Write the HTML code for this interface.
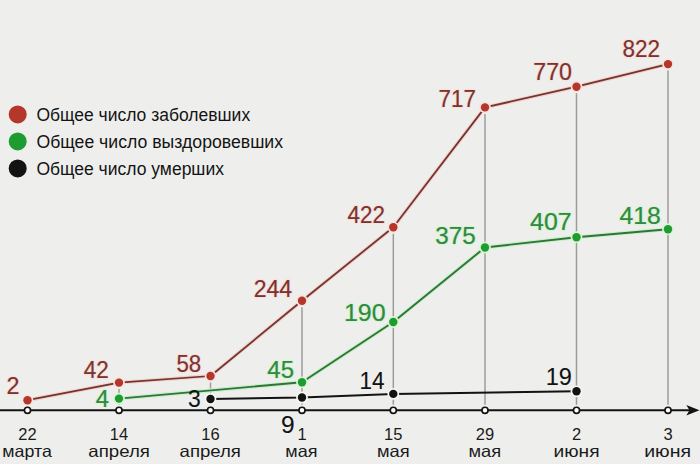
<!DOCTYPE html>
<html><head><meta charset="utf-8"><style>
html,body{margin:0;padding:0;background:#eeefed;}
svg{display:block;font-family:"Liberation Sans","DejaVu Sans",sans-serif;}
</style></head><body>
<svg width="700" height="464" viewBox="0 0 700 464">
<rect width="700" height="464" fill="#eeefed"/>
<line x1="119" y1="389.1" x2="119" y2="404.7" stroke="#9c9c9c" stroke-width="1.5"/>
<line x1="210.5" y1="382.5" x2="210.5" y2="404.7" stroke="#9c9c9c" stroke-width="1.5"/>
<line x1="302" y1="307.2" x2="302" y2="404.7" stroke="#9c9c9c" stroke-width="1.5"/>
<line x1="393.3" y1="233.8" x2="393.3" y2="404.7" stroke="#9c9c9c" stroke-width="1.5"/>
<line x1="485" y1="113.9" x2="485" y2="404.7" stroke="#9c9c9c" stroke-width="1.5"/>
<line x1="576.5" y1="93.2" x2="576.5" y2="404.7" stroke="#9c9c9c" stroke-width="1.5"/>
<line x1="668" y1="70.6" x2="668" y2="404.7" stroke="#9c9c9c" stroke-width="1.5"/>
<line x1="0" y1="410.3" x2="690" y2="410.3" stroke="#131313" stroke-width="1.9"/>
<path d="M699.5 410.3 L686.3 405.1 L689.5 410.3 L686.3 415.5 Z" fill="#131313"/>
<polyline points="210.5,399 302,397.5 393.3,393.9 576.5,391.3" fill="none" stroke="#131313" stroke-width="2" stroke-linejoin="round"/>
<polyline points="119,398.6 302,382.3 393.3,322 485,247.5 576.5,237.2 668,229.2" fill="none" stroke="#cdeecb" stroke-width="4.1" stroke-linejoin="round"/><polyline points="119,398.6 302,382.3 393.3,322 485,247.5 576.5,237.2 668,229.2" fill="none" stroke="#2d7638" stroke-width="1.9" stroke-linejoin="round"/>
<polyline points="27.5,400.2 119,382.6 210.5,376 302,300.7 393.3,227.3 485,107.4 576.5,86.7 668,64.1" fill="none" stroke="#efd3ce" stroke-width="3.95" stroke-linejoin="round"/><polyline points="27.5,400.2 119,382.6 210.5,376 302,300.7 393.3,227.3 485,107.4 576.5,86.7 668,64.1" fill="none" stroke="#77322d" stroke-width="1.75" stroke-linejoin="round"/>
<circle cx="210.5" cy="399" r="5.9" fill="#f7f7f5"/><circle cx="210.5" cy="399" r="4.2" fill="#131313"/><circle cx="302" cy="397.5" r="5.9" fill="#f7f7f5"/><circle cx="302" cy="397.5" r="4.2" fill="#131313"/><circle cx="393.3" cy="393.9" r="5.9" fill="#f7f7f5"/><circle cx="393.3" cy="393.9" r="4.2" fill="#131313"/><circle cx="576.5" cy="391.3" r="5.9" fill="#f7f7f5"/><circle cx="576.5" cy="391.3" r="4.2" fill="#131313"/>
<circle cx="119" cy="398.6" r="5.9" fill="#d8f5d6"/><circle cx="119" cy="398.6" r="4.2" fill="#1f9c30"/><circle cx="302" cy="382.3" r="5.9" fill="#d8f5d6"/><circle cx="302" cy="382.3" r="4.2" fill="#1f9c30"/><circle cx="393.3" cy="322" r="5.9" fill="#d8f5d6"/><circle cx="393.3" cy="322" r="4.2" fill="#1f9c30"/><circle cx="485" cy="247.5" r="5.9" fill="#d8f5d6"/><circle cx="485" cy="247.5" r="4.2" fill="#1f9c30"/><circle cx="576.5" cy="237.2" r="5.9" fill="#d8f5d6"/><circle cx="576.5" cy="237.2" r="4.2" fill="#1f9c30"/><circle cx="668" cy="229.2" r="5.9" fill="#d8f5d6"/><circle cx="668" cy="229.2" r="4.2" fill="#1f9c30"/>
<circle cx="27.5" cy="400.2" r="5.9" fill="#f7e4e0"/><circle cx="27.5" cy="400.2" r="4.2" fill="#b5362b"/><circle cx="119" cy="382.6" r="5.9" fill="#f7e4e0"/><circle cx="119" cy="382.6" r="4.2" fill="#b5362b"/><circle cx="210.5" cy="376" r="5.9" fill="#f7e4e0"/><circle cx="210.5" cy="376" r="4.2" fill="#b5362b"/><circle cx="302" cy="300.7" r="5.9" fill="#f7e4e0"/><circle cx="302" cy="300.7" r="4.2" fill="#b5362b"/><circle cx="393.3" cy="227.3" r="5.9" fill="#f7e4e0"/><circle cx="393.3" cy="227.3" r="4.2" fill="#b5362b"/><circle cx="485" cy="107.4" r="5.9" fill="#f7e4e0"/><circle cx="485" cy="107.4" r="4.2" fill="#b5362b"/><circle cx="576.5" cy="86.7" r="5.9" fill="#f7e4e0"/><circle cx="576.5" cy="86.7" r="4.2" fill="#b5362b"/><circle cx="668" cy="64.1" r="5.9" fill="#f7e4e0"/><circle cx="668" cy="64.1" r="4.2" fill="#b5362b"/>
<circle cx="27.5" cy="410.3" r="3.05" fill="#fff" stroke="#131313" stroke-width="1.7"/>
<circle cx="119" cy="410.3" r="3.05" fill="#fff" stroke="#131313" stroke-width="1.7"/>
<circle cx="210.5" cy="410.3" r="3.05" fill="#fff" stroke="#131313" stroke-width="1.7"/>
<circle cx="302" cy="410.3" r="3.05" fill="#fff" stroke="#131313" stroke-width="1.7"/>
<circle cx="393.3" cy="410.3" r="3.05" fill="#fff" stroke="#131313" stroke-width="1.7"/>
<circle cx="485" cy="410.3" r="3.05" fill="#fff" stroke="#131313" stroke-width="1.7"/>
<circle cx="576.5" cy="410.3" r="3.05" fill="#fff" stroke="#131313" stroke-width="1.7"/>
<circle cx="668" cy="410.3" r="3.05" fill="#fff" stroke="#131313" stroke-width="1.7"/>
<text x="6.54" y="393.50" font-size="23.5" fill="#7e322d" textLength="12.96" lengthAdjust="spacingAndGlyphs" stroke="#f6e3e0" stroke-width="2.6" stroke-linejoin="round">2</text>
<text x="6.54" y="393.50" font-size="23.5" fill="#7e322d" textLength="12.96" lengthAdjust="spacingAndGlyphs" stroke="#7e322d" stroke-width="0.2">2</text>
<text x="83.85" y="377.70" font-size="23.5" fill="#7e322d" textLength="25.03" lengthAdjust="spacingAndGlyphs" stroke="#f6e3e0" stroke-width="2.6" stroke-linejoin="round">42</text>
<text x="83.85" y="377.70" font-size="23.5" fill="#7e322d" textLength="25.03" lengthAdjust="spacingAndGlyphs" stroke="#7e322d" stroke-width="0.2">42</text>
<text x="176.51" y="371.70" font-size="23.5" fill="#7e322d" textLength="24.73" lengthAdjust="spacingAndGlyphs" stroke="#f6e3e0" stroke-width="2.6" stroke-linejoin="round">58</text>
<text x="176.51" y="371.70" font-size="23.5" fill="#7e322d" textLength="24.73" lengthAdjust="spacingAndGlyphs" stroke="#7e322d" stroke-width="0.2">58</text>
<text x="253.75" y="297.30" font-size="23.5" fill="#7e322d" textLength="38.42" lengthAdjust="spacingAndGlyphs" stroke="#f6e3e0" stroke-width="2.6" stroke-linejoin="round">244</text>
<text x="253.75" y="297.30" font-size="23.5" fill="#7e322d" textLength="38.42" lengthAdjust="spacingAndGlyphs" stroke="#7e322d" stroke-width="0.2">244</text>
<text x="347.55" y="222.60" font-size="23.5" fill="#7e322d" textLength="37.35" lengthAdjust="spacingAndGlyphs" stroke="#f6e3e0" stroke-width="2.6" stroke-linejoin="round">422</text>
<text x="347.55" y="222.60" font-size="23.5" fill="#7e322d" textLength="37.35" lengthAdjust="spacingAndGlyphs" stroke="#7e322d" stroke-width="0.2">422</text>
<text x="438.58" y="106.90" font-size="23.5" fill="#7e322d" textLength="37.21" lengthAdjust="spacingAndGlyphs" stroke="#f6e3e0" stroke-width="2.6" stroke-linejoin="round">717</text>
<text x="438.58" y="106.90" font-size="23.5" fill="#7e322d" textLength="37.21" lengthAdjust="spacingAndGlyphs" stroke="#7e322d" stroke-width="0.2">717</text>
<text x="533.34" y="80.00" font-size="23.5" fill="#7e322d" textLength="38.65" lengthAdjust="spacingAndGlyphs" stroke="#f6e3e0" stroke-width="2.6" stroke-linejoin="round">770</text>
<text x="533.34" y="80.00" font-size="23.5" fill="#7e322d" textLength="38.65" lengthAdjust="spacingAndGlyphs" stroke="#7e322d" stroke-width="0.2">770</text>
<text x="622.39" y="57.20" font-size="23.5" fill="#7e322d" textLength="37.52" lengthAdjust="spacingAndGlyphs" stroke="#f6e3e0" stroke-width="2.6" stroke-linejoin="round">822</text>
<text x="622.39" y="57.20" font-size="23.5" fill="#7e322d" textLength="37.52" lengthAdjust="spacingAndGlyphs" stroke="#7e322d" stroke-width="0.2">822</text>
<text x="95.82" y="407.20" font-size="23.5" fill="#2f8a40" textLength="13.22" lengthAdjust="spacingAndGlyphs" stroke="#d9f3d6" stroke-width="2.6" stroke-linejoin="round">4</text>
<text x="95.82" y="407.20" font-size="23.5" fill="#2f8a40" textLength="13.22" lengthAdjust="spacingAndGlyphs" stroke="#2f8a40" stroke-width="0.2">4</text>
<text x="267.32" y="377.60" font-size="23.5" fill="#2f8a40" textLength="26.70" lengthAdjust="spacingAndGlyphs" stroke="#d9f3d6" stroke-width="2.6" stroke-linejoin="round">45</text>
<text x="267.32" y="377.60" font-size="23.5" fill="#2f8a40" textLength="26.70" lengthAdjust="spacingAndGlyphs" stroke="#2f8a40" stroke-width="0.2">45</text>
<text x="343.93" y="320.80" font-size="23.5" fill="#2f8a40" textLength="41.63" lengthAdjust="spacingAndGlyphs" stroke="#d9f3d6" stroke-width="2.6" stroke-linejoin="round">190</text>
<text x="343.93" y="320.80" font-size="23.5" fill="#2f8a40" textLength="41.63" lengthAdjust="spacingAndGlyphs" stroke="#2f8a40" stroke-width="0.2">190</text>
<text x="435.23" y="244.40" font-size="23.5" fill="#2f8a40" textLength="40.42" lengthAdjust="spacingAndGlyphs" stroke="#d9f3d6" stroke-width="2.6" stroke-linejoin="round">375</text>
<text x="435.23" y="244.40" font-size="23.5" fill="#2f8a40" textLength="40.42" lengthAdjust="spacingAndGlyphs" stroke="#2f8a40" stroke-width="0.2">375</text>
<text x="530.10" y="229.80" font-size="23.5" fill="#2f8a40" textLength="41.53" lengthAdjust="spacingAndGlyphs" stroke="#d9f3d6" stroke-width="2.6" stroke-linejoin="round">407</text>
<text x="530.10" y="229.80" font-size="23.5" fill="#2f8a40" textLength="41.53" lengthAdjust="spacingAndGlyphs" stroke="#2f8a40" stroke-width="0.2">407</text>
<text x="619.41" y="223.50" font-size="23.5" fill="#2f8a40" textLength="41.27" lengthAdjust="spacingAndGlyphs" stroke="#d9f3d6" stroke-width="2.6" stroke-linejoin="round">418</text>
<text x="619.41" y="223.50" font-size="23.5" fill="#2f8a40" textLength="41.27" lengthAdjust="spacingAndGlyphs" stroke="#2f8a40" stroke-width="0.2">418</text>
<text x="187.98" y="406.80" font-size="23.5" fill="#121212" textLength="12.76" lengthAdjust="spacingAndGlyphs" stroke="#121212" stroke-width="0.1">3</text>
<text x="280.90" y="432.60" font-size="23.5" fill="#121212" textLength="13.64" lengthAdjust="spacingAndGlyphs" stroke="#121212" stroke-width="0.1">9</text>
<text x="359.61" y="388.80" font-size="23.5" fill="#121212" textLength="25.01" lengthAdjust="spacingAndGlyphs" stroke="#121212" stroke-width="0.1">14</text>
<text x="545.63" y="384.60" font-size="23.5" fill="#121212" textLength="26.18" lengthAdjust="spacingAndGlyphs" stroke="#121212" stroke-width="0.1">19</text>
<circle cx="17.7" cy="114.4" r="9" fill="#b5362b"/>
<text x="36.41" y="120.90" font-size="17.5" fill="#141414" textLength="213.74" lengthAdjust="spacingAndGlyphs">Общее число заболевших</text>
<circle cx="17.7" cy="141.4" r="9" fill="#1f9c30"/>
<text x="36.41" y="147.90" font-size="17.5" fill="#141414" textLength="246.61" lengthAdjust="spacingAndGlyphs">Общее число выздоровевших</text>
<circle cx="17.7" cy="168.4" r="9" fill="#131313"/>
<text x="36.41" y="174.90" font-size="17.5" fill="#141414" textLength="187.56" lengthAdjust="spacingAndGlyphs">Общее число умерших</text>
<text x="27.5" y="439.8" font-size="16.5" fill="#1a1a1a" text-anchor="middle">22</text>
<text x="2.35" y="457.00" font-size="16.5" fill="#1a1a1a" textLength="49.56" lengthAdjust="spacingAndGlyphs">марта</text>
<text x="119" y="439.8" font-size="16.5" fill="#1a1a1a" text-anchor="middle">14</text>
<text x="88.36" y="457.00" font-size="16.5" fill="#1a1a1a" textLength="61.49" lengthAdjust="spacingAndGlyphs">апреля</text>
<text x="210.5" y="439.8" font-size="16.5" fill="#1a1a1a" text-anchor="middle">16</text>
<text x="179.56" y="457.00" font-size="16.5" fill="#1a1a1a" textLength="61.39" lengthAdjust="spacingAndGlyphs">апреля</text>
<text x="302" y="439.8" font-size="16.5" fill="#1a1a1a" text-anchor="middle">1</text>
<text x="285.34" y="457.00" font-size="16.5" fill="#1a1a1a" textLength="32.13" lengthAdjust="spacingAndGlyphs">мая</text>
<text x="393.3" y="439.8" font-size="16.5" fill="#1a1a1a" text-anchor="middle">15</text>
<text x="377.02" y="457.00" font-size="16.5" fill="#1a1a1a" textLength="32.67" lengthAdjust="spacingAndGlyphs">мая</text>
<text x="485" y="439.8" font-size="16.5" fill="#1a1a1a" text-anchor="middle">29</text>
<text x="468.42" y="457.00" font-size="16.5" fill="#1a1a1a" textLength="32.67" lengthAdjust="spacingAndGlyphs">мая</text>
<text x="576.5" y="439.8" font-size="16.5" fill="#1a1a1a" text-anchor="middle">2</text>
<text x="553.56" y="457.00" font-size="16.5" fill="#1a1a1a" textLength="46.03" lengthAdjust="spacingAndGlyphs">июня</text>
<text x="668" y="439.8" font-size="16.5" fill="#1a1a1a" text-anchor="middle">3</text>
<text x="644.24" y="457.00" font-size="16.5" fill="#1a1a1a" textLength="46.77" lengthAdjust="spacingAndGlyphs">июня</text>
</svg></body></html>
